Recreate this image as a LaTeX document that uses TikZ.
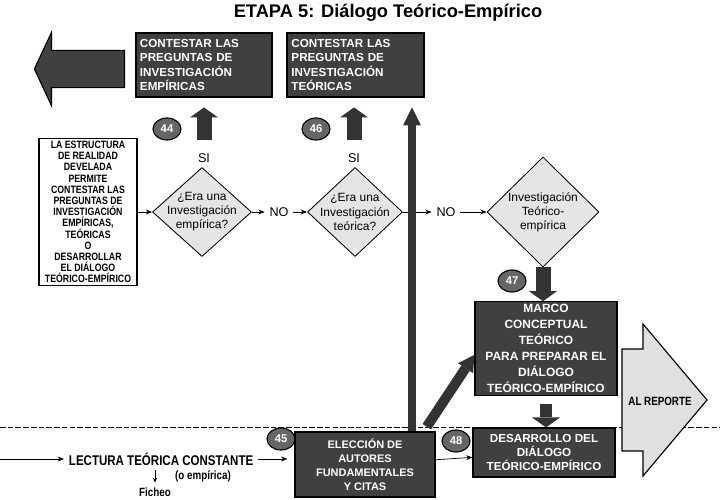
\documentclass[tikz,border=0pt]{standalone}
\usepackage{fontspec}
\setmainfont{Liberation Sans}
\newfontfamily\narrowfont[FakeStretch=0.82]{Liberation Sans}
\usetikzlibrary{shapes.geometric, shapes.arrows, arrows.meta, positioning}

\begin{document}
\begin{tikzpicture}[x=0.025cm, y=-0.025cm]
			\tikzstyle{darkbox} = [rectangle, draw=black, line width=0.8pt, fill=black!75, text=white, font=\fontsize{8.3}{10}\selectfont\bfseries, align=center, inner sep=2pt]
			\tikzstyle{premise} = [rectangle, draw=black, line width=0.8pt, fill=white, align=center, inner sep=1pt, font=\narrowfont\fontsize{7.6}{7.95}\selectfont\bfseries]
			\tikzstyle{decision} = [diamond, draw=black, line width=0.6pt, fill=black!10, inner sep=0pt]
			\tikzstyle{question} = [align=center, font=\fontsize{8.5}{10}\selectfont]
			\tikzstyle{num} = [ellipse, draw=black, line width=0.8pt, fill=black!60, text=white, font=\fontsize{8}{8}\selectfont\bfseries, minimum width=0.7cm, minimum height=0.55cm, inner sep=0pt]
			\tikzstyle{bigarrow} = [single arrow, draw=black, line width=0.8pt, inner xsep=0pt]
			\tikzstyle{label} = [font=\fontsize{9}{10}\selectfont]
			\tikzstyle{plain} = [font=\narrowfont\fontsize{8.5}{9}\selectfont\bfseries]
			\tikzstyle{arrow} = [line width=0.5pt, -{Stealth[length=4.5pt, width=3.5pt]}]
			\tikzstyle{block} = [draw=black!80, line width=0.375cm, -{Triangle[length=0.25cm, width=0.7cm, line width=0pt]}]
			\tikzstyle{thinblock} = [draw=black!80, line width=0.22cm, -{Triangle[length=0.4cm, width=0.45cm, line width=0pt]}]

			\useasboundingbox (0,0) rectangle (720,499);
			\draw [dashed, dash pattern=on 4pt off 1.5pt, line width=0.5pt] (0,427) -- (720,427);

			\node (title) at (388,13) {\fontsize{13}{15}\selectfont\bfseries ETAPA 5: Diálogo Teórico-Empírico};

			\node (empbox) [darkbox, minimum width=3.4cm, minimum height=1.6cm, text width=3.2cm, align=left] at (204,65) {CONTESTAR LAS\\PREGUNTAS DE\\INVESTIGACIÓN\\EMPÍRICAS};
			\node (teobox) [darkbox, minimum width=3.425cm, minimum height=1.6cm, text width=3.2cm, align=left] at (355.5,65) {CONTESTAR LAS\\PREGUNTAS DE\\INVESTIGACIÓN\\TEÓRICAS};
			\node (salida) [bigarrow, fill=black!75, shape border rotate=180, inner ysep=0.45cm, minimum height=2.25cm, minimum width=1.8cm, single arrow head extend=0.45cm, single arrow tip angle=130, anchor=tail] at (125,69) {};

			\node (num44) [num] at (167,129) {44};
			\node (num46) [num] at (316,129) {46};
			\node (si1) [label] at (204,158) {SI};
			\node (si2) [label] at (354,158) {SI};

			\node (premisa) [premise, minimum width=2.45cm, minimum height=3.675cm] at (88,212) {LA ESTRUCTURA\\DE REALIDAD\\DEVELADA\\PERMITE\\CONTESTAR LAS\\PREGUNTAS DE\\INVESTIGACIÓN\\EMPÍRICAS,\\TEÓRICAS\\O\\DESARROLLAR\\EL DIÁLOGO\\TEÓRICO-EMPÍRICO};

			\node (d1) [decision, minimum width=2.475cm, minimum height=2.225cm] at (202,212) {};
			\node (q1) [question] at (d1) {¿Era una\\Investigación\\empírica?};
			\node (no1) [label] at (279,212) {NO};
			\node (d2) [decision, minimum width=2.375cm, minimum height=2.225cm] at (355,212) {};
			\node (q2) [question] at (d2) {¿Era una\\Investigación\\teórica?};
			\node (no2) [label] at (446,212) {NO};
			\node (d3) [decision, minimum width=2.8cm, minimum height=2.75cm] at (543,212) {};
			\node (q3) [question] at (d3) {Investigación\\Teórico-\\empírica};

			\node (num47) [num] at (512,281) {47};
			\node (marco) [darkbox, minimum width=3.55cm, minimum height=2.325cm, font=\fontsize{8.5}{11.3}\selectfont\bfseries] at (546,348.5) {MARCO\\CONCEPTUAL\\TEÓRICO\\PARA PREPARAR EL\\DIÁLOGO\\TEÓRICO-EMPÍRICO};
			\draw [draw=black, line width=0.8pt, fill=black!12] (622,349) -- (643,349) -- (643,324) -- (707,400) -- (643,476) -- (643,451) -- (622,451) -- cycle;
			\node (reporte) [font=\narrowfont\fontsize{8.5}{9}\selectfont\bfseries] at (660,401) {AL REPORTE};

			\node (num45) [num] at (281,439) {45};
			\node (eleccion) [darkbox, minimum width=3.5cm, minimum height=1.625cm, font=\fontsize{7.8}{10}\selectfont\bfseries] at (365,464.5) {ELECCIÓN DE\\AUTORES\\FUNDAMENTALES\\Y CITAS};
			\node (num48) [num] at (456,441) {48};
			\node (desarrollo) [darkbox, minimum width=3.55cm, minimum height=1.225cm] at (544,452.5) {DESARROLLO DEL\\DIÁLOGO\\TEÓRICO-EMPÍRICO};

			\coordinate (entrada) at (0,459);
			\node (lectura) [plain, font=\narrowfont\fontsize{10}{11}\selectfont\bfseries, anchor=west] at (64,459) {LECTURA TEÓRICA CONSTANTE};
			\node (ficheo) [plain] at (155,492) {Ficheo};
			\node (oemp) [plain] at (203,476) {(o empírica)};

			% flujo principal
			\draw [arrow] (premisa) -- (d1);
			\draw [arrow] (d1) -- (no1);
			\draw [arrow] (no1) -- (d2);
			\draw [arrow] (d2) -- (no2);
			\draw [arrow] (no2) -- (d3);
			\draw [block, shorten <=6pt, shorten >=7pt] (si1.north) -- (empbox.south);
			\draw [block, shorten <=6pt, shorten >=7pt] (si2.north) -- (si2.north |- teobox.south);
			\draw [block, shorten >=0pt] (d3.south) -- (d3.south |- marco.north);
			\draw [block, line width=0.3cm, shorten <=6pt] (marco.south) -- (marco.south |- desarrollo.north);
			\draw [thinblock, line width=0.2cm, -{Triangle[length=0.45cm, width=0.45cm, line width=0pt]}] ([xshift=1.175cm]eleccion.north) -- ([xshift=1.175cm, yshift=-7pt]eleccion.north |- teobox.south);
			\draw [thinblock, line width=0.25cm, shorten <=4pt] ([xshift=-8.5pt]eleccion.north east) -- ([yshift=-4.5pt]marco.west);

			% lectura
			\draw [arrow] (entrada) -- (lectura);
			\draw [arrow, shorten >=5pt] (lectura) -- (lectura -| eleccion.west);
			\draw [arrow, -{Stealth[length=3.5pt, width=3pt]}] (ficheo.north |- lectura.south) -- (ficheo.north);
			\draw [arrow] (eleccion) -- (desarrollo);

		\end{tikzpicture}
\end{document}
